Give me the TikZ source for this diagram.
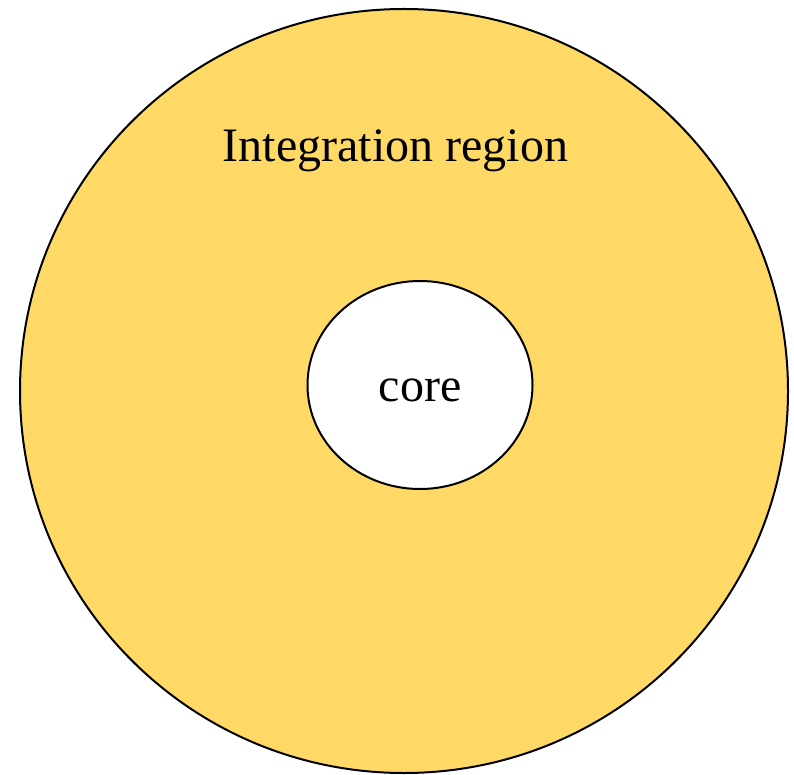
\documentclass[tikz,border=0pt]{standalone}
\usepackage{fontspec}
\setmainfont{Liberation Serif}
\usetikzlibrary{shapes.geometric}
\definecolor{gold}{HTML}{FFD966}
\tikzset{
  region/.style={ellipse, draw=black, line width=2pt, inner sep=0pt},
  lbl/.style={font=\fontsize{48}{56}\selectfont, anchor=base, inner sep=0pt}
}
\begin{document}
\begin{tikzpicture}[x=1pt,y=-1pt]
\useasboundingbox (0,0) rectangle (794,775);
\node[region, fill=gold, minimum width=768pt, minimum height=764pt] (outer) at (404,391) {};
\node[region, fill=white, minimum width=225pt, minimum height=208pt] (core) at (420,385) {};
\node[lbl] (title) at (395.5,162) {Integration region};
\node[lbl] (corelbl) at (420,401) {core};
\end{tikzpicture}
\end{document}
